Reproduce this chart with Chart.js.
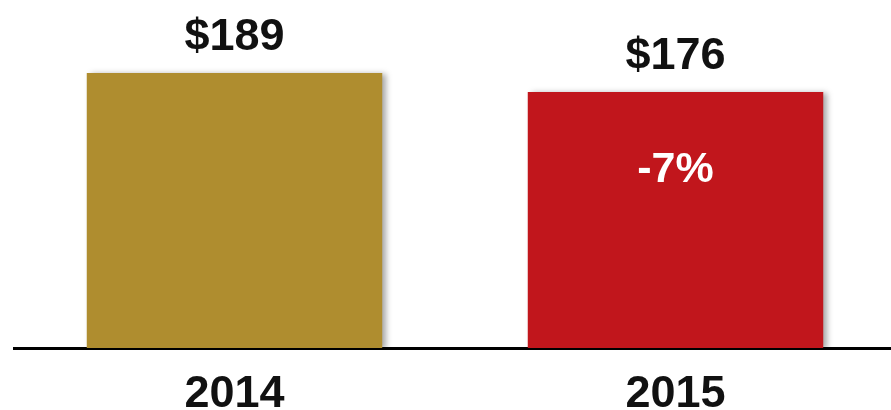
<!DOCTYPE html>
<html>
<head>
<meta charset="utf-8">
<script src="https://cdn.jsdelivr.net/npm/chart.js@4/dist/chart.umd.min.js"></script>
<style>
  html, body { margin: 0; padding: 0; background: #fff; overflow: hidden; }
  #wrap { width: 896px; height: 410px; position: relative; }
</style>
</head>
<body>
<div id="wrap"><canvas id="chart"></canvas></div>
<script>
const years = ["2014", "2015"];
const spend = [189, 176];
const barColors = ["#AF8D2F", "#C1161C"];

const FONT = "'Liberation Sans', Arial, sans-serif";

// percent change vs previous year, rounded
function changeText(i) {
  if (i === 0) return "";
  const pct = Math.round((spend[i] - spend[i - 1]) / spend[i - 1] * 100);
  return (pct > 0 ? "+" : "") + pct + "%";
}

const barShadow = {
  id: "barShadow",
  beforeDatasetDraw(chart) {
    const ctx = chart.ctx;
    ctx.save();
    ctx.shadowColor = "rgba(0,0,0,0.35)";
    ctx.shadowBlur = 6;
    ctx.shadowOffsetX = 4;
    ctx.shadowOffsetY = 1;
  },
  afterDatasetDraw(chart) {
    chart.ctx.restore();
  },
};

const valueLabels = {
  id: "valueLabels",
  afterDatasetsDraw(chart) {
    const ctx = chart.ctx;
    const bars = chart.getDatasetMeta(0).data;
    ctx.save();
    ctx.textAlign = "center";
    ctx.textBaseline = "alphabetic";
    bars.forEach((bar, i) => {
      ctx.font = "bold 45px " + FONT;
      ctx.fillStyle = "#111";
      ctx.fillText("$" + spend[i], bar.x, bar.y - 23);
      const c = changeText(i);
      if (c) {
        ctx.font = "bold 43px " + FONT;
        ctx.fillStyle = "#fff";
        ctx.fillText(c, bar.x, bar.y + 90);
      }
    });
    ctx.restore();
  },
};

new Chart(document.getElementById("chart"), {
  type: "bar",
  data: {
    labels: years,
    datasets: [{
      data: spend,
      backgroundColor: barColors,
      borderWidth: 0,
      barPercentage: 0.67,
      categoryPercentage: 1,
    }],
  },
  options: {
    responsive: true,
    maintainAspectRatio: false,
    animation: false,
    layout: { padding: { top: 57, left: 14, right: 0, bottom: -31 } },
    plugins: { legend: { display: false }, tooltip: { enabled: false } },
    scales: {
      x: {
        grid: { display: false, drawTicks: false },
        border: { display: true, color: "#000", width: 3 },
        ticks: {
          color: "#111",
          padding: 24,
          font: { family: FONT, size: 45, weight: "bold", lineHeight: 1 },
        },
      },
      y: {
        display: false,
        min: 0,
        max: 200,
      },
    },
  },
  plugins: [barShadow, valueLabels],
});
</script>
</body>
</html>
